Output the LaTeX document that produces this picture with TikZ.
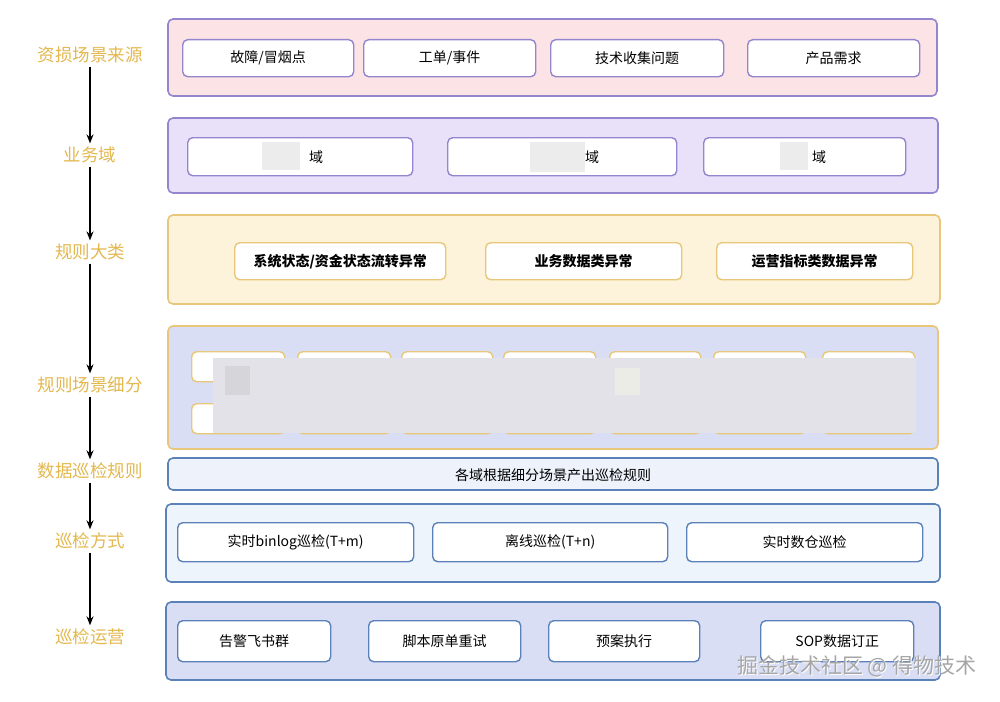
\documentclass[tikz,border=0pt]{standalone}
\usepackage{fontspec}
\setmainfont{Noto Sans CJK SC}
\usetikzlibrary{arrows.meta}
\definecolor{gold}{HTML}{E3B84E}
\definecolor{purp}{HTML}{9585CF}
\definecolor{orng}{HTML}{E8C67A}
\definecolor{blu}{HTML}{5B82B8}
\definecolor{blurA}{HTML}{E2E2E8}
\definecolor{blurB}{HTML}{D6D6DA}
\definecolor{blurC}{HTML}{ECECE6}
\tikzset{
 band/.style={draw=#1,rounded corners=5pt,line width=1.6pt},
 box/.style={draw=#1,fill=white,rounded corners=5pt,line width=1.4pt,font=\fontsize{14}{16}\selectfont},
 lbl/.style={text=gold,font=\fontsize{17.5}{20}\selectfont},
 arr/.style={-{Stealth[length=9pt,width=7pt]},line width=1.6pt}
}
\begin{document}
\begin{tikzpicture}[x=1pt,y=-1pt]
\useasboundingbox[fill=white] (0,0) rectangle (1000,701);
% band 1
\draw[band=purp,fill={rgb,255:red,251;green,227;blue,230}] (168,19) rectangle (937,96);
\node[box=purp,minimum width=171,minimum height=37,anchor=north west] (a1) at (182,39) {故障/冒烟点};
\node[box=purp,minimum width=172,minimum height=37,anchor=north west] (a2) at (363,39) {工单/事件};
\node[box=purp,minimum width=173,minimum height=37,anchor=north west] (a3) at (550,39) {技术收集问题};
\node[box=purp,minimum width=172,minimum height=37,anchor=north west] (a4) at (747,39) {产品需求};
% band 2
\draw[band=purp,fill={rgb,255:red,233;green,225;blue,250}] (168,118) rectangle (938,193);
\node[box=purp,minimum width=225,minimum height=38,anchor=north west] (b1) at (187,137) {};
\node[box=purp,minimum width=229,minimum height=38,anchor=north west] (b2) at (447,137) {};
\node[box=purp,minimum width=202,minimum height=38,anchor=north west] (b3) at (703,137) {};
\fill[gray!15] (262,142) rectangle (300,170); \node[font=\fontsize{14}{16}\selectfont] (t1) at (316,157) {域};
\fill[gray!15] (530,142) rectangle (585,172); \node[font=\fontsize{14}{16}\selectfont] (t2) at (592,157) {域};
\fill[gray!15] (780,142) rectangle (808,170); \node[font=\fontsize{14}{16}\selectfont] (t3) at (819,157) {域};
% band 3
\draw[band=orng,fill={rgb,255:red,253;green,243;blue,218}] (168,215) rectangle (940,304);
\node[box=orng,font=\bfseries\fontsize{14}{16}\selectfont,minimum width=211,minimum height=37,anchor=north west] (c1) at (234,242) {系统状态/资金状态流转异常};
\node[box=orng,font=\bfseries\fontsize{14}{16}\selectfont,minimum width=196,minimum height=37,anchor=north west] (c2) at (485,242) {业务数据类异常};
\node[box=orng,font=\bfseries\fontsize{14}{16}\selectfont,minimum width=196,minimum height=37,anchor=north west] (c3) at (716,242) {运营指标类数据异常};
% band 4
\draw[band=orng,fill={rgb,255:red,217;green,222;blue,245}] (168,326) rectangle (938,449);
\foreach \l/\r [count=\i] in {191/284,297/390,401/492,503/595,609/700,713/805,822/914}{
 \node[box=orng,minimum width=\r-\l,minimum height=30,anchor=north west] (d\i) at (\l,351) {};
 \node[box=orng,minimum width=\r-\l,minimum height=30,anchor=north west] (e\i) at (\l,403) {};
}
\fill[blurA] (213,358) rectangle (916,433);
\fill[blurB] (225,366) rectangle (250,395);
\fill[blurC] (615,368) rectangle (640,395);
% band 5
\draw[band=blu,fill={rgb,255:red,238;green,243;blue,251}] (168,458) rectangle (938,490);
\node[font=\fontsize{14}{16}\selectfont] (f1) at (553,475) {各域根据细分场景产出巡检规则};
% band 6
\draw[band=blu,fill={rgb,255:red,238;green,244;blue,251}] (166,504) rectangle (940,582);
\node[box=blu,minimum width=236,minimum height=39,anchor=north west] (g1) at (177,522) {实时binlog巡检(T+m)};
\node[box=blu,minimum width=235,minimum height=39,anchor=north west] (g2) at (432,522) {离线巡检(T+n)};
\node[box=blu,minimum width=236,minimum height=39,anchor=north west] (g3) at (686,522) {实时数仓巡检};
% band 7
\draw[band=blu,fill={rgb,255:red,217;green,222;blue,245}] (166,602) rectangle (940,680);
\node[box=blu,minimum width=153,minimum height=41,anchor=north west] (h1) at (177,620) {告警飞书群};
\node[box=blu,minimum width=152,minimum height=41,anchor=north west] (h2) at (368,620) {脚本原单重试};
\node[box=blu,minimum width=151,minimum height=41,anchor=north west] (h3) at (548,620) {预案执行};
\node[box=blu,minimum width=153,minimum height=41,anchor=north west] (h4) at (760,620) {SOP数据订正};
% labels
\node[lbl] (l1) at (90,55) {资损场景来源};
\node[lbl] (l2) at (90,155) {业务域};
\node[lbl] (l3) at (90,252) {规则大类};
\node[lbl] (l4) at (90,385) {规则场景细分};
\node[lbl] (l5) at (90,471) {数据巡检规则};
\node[lbl] (l6) at (90,541) {巡检方式};
\node[lbl] (l7) at (90,637) {巡检运营};
\foreach \a/\b in {l1/l2,l2/l3,l3/l4,l4/l5,l5/l6,l6/l7}
 \draw[arr] (\a.south) -- (\b.north);
\node[text=white,font=\fontsize{21}{24}\selectfont,anchor=east] at (981,667) {掘金技术社区 @ 得物技术};
\node[text=gray!70,font=\fontsize{21}{24}\selectfont,anchor=east] (wm) at (980,666) {掘金技术社区 @ 得物技术};
\end{tikzpicture}
\end{document}
